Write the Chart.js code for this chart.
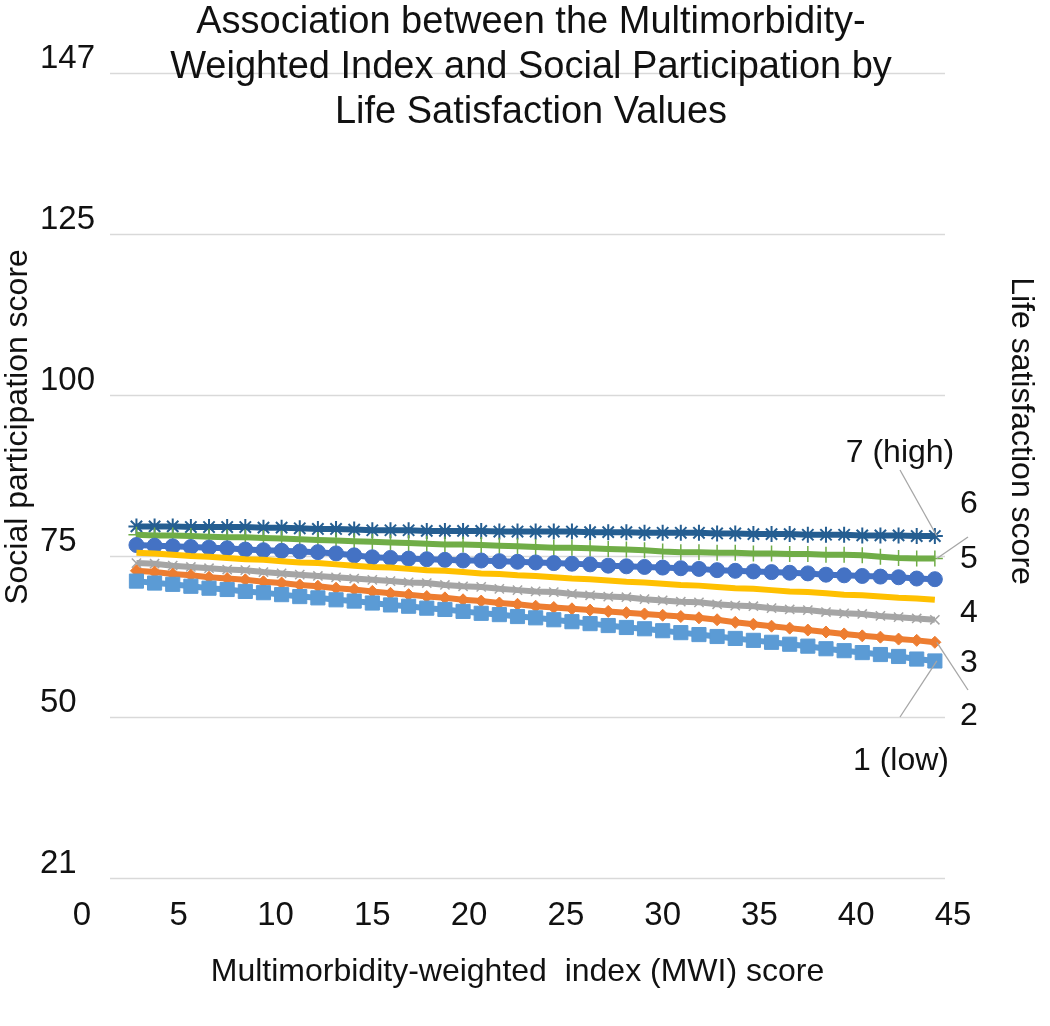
<!DOCTYPE html>
<html>
<head>
<meta charset="utf-8">
<title>MWI and social participation by life satisfaction</title>
<script src="https://cdn.jsdelivr.net/npm/chart.js@4.4.1/dist/chart.umd.min.js"></script>
<style>
  html, body { margin: 0; padding: 0; background: #fff; }
</style>
</head>
<body>
<canvas id="mwiChart" width="1050" height="1026"></canvas>
<script>
// MWI score of each plotted point
const mwiScores = [0, 1, 2, 3, 4, 5, 6, 7, 8, 9, 10, 11, 12, 13, 14, 15, 16, 17, 18, 19, 20, 21,
    22, 23, 24, 25, 26, 27, 28, 29, 30, 31, 32, 33, 34, 35, 36, 37, 38, 39, 40, 41, 42, 43, 44];

// social participation score, one list per life satisfaction value
const lifeSat1 = [71.1, 70.8, 70.6, 70.3, 70.0, 69.8, 69.5, 69.3, 69.0, 68.7, 68.5,
    68.2, 68.0, 67.7, 67.4, 67.2, 66.9, 66.7, 66.4, 66.1, 65.9, 65.6, 65.4,
    65.1, 64.8, 64.5, 64.2, 63.9, 63.7, 63.4, 63.1, 62.8, 62.5,
    62.2, 61.9, 61.6, 61.3, 61.0, 60.6, 60.3, 60.0, 59.7, 59.4, 59.0, 58.7];
const lifeSat2 = [72.7, 72.5, 72.2, 72.0, 71.7, 71.5, 71.3, 71.0, 70.8, 70.5, 70.3,
    70.0, 69.8, 69.5, 69.2, 69.0, 68.7, 68.5, 68.2, 68.0, 67.7, 67.5, 67.2,
    67.0, 66.8, 66.6, 66.4, 66.2, 66.0, 65.8, 65.6, 65.4, 65.1,
    64.7, 64.4, 64.1, 63.8, 63.5, 63.2, 62.9, 62.6, 62.4, 62.1, 61.9, 61.6];
const lifeSat3 = [73.9, 73.8, 73.5, 73.3, 73.1, 72.9, 72.8, 72.5, 72.3, 72.1, 71.9,
    71.7, 71.5, 71.3, 71.1, 70.9, 70.8, 70.5, 70.3, 70.2, 69.9, 69.7, 69.5,
    69.4, 69.1, 68.9, 68.7, 68.6, 68.3, 68.1, 67.9, 67.8, 67.5,
    67.3, 67.2, 66.9, 66.7, 66.6, 66.3, 66.1, 66.0, 65.7, 65.5, 65.3, 65.1];
const lifeSat4 = [75.5, 75.4, 75.2, 75.0, 74.9, 74.7, 74.5, 74.4, 74.2, 74.0, 73.9,
    73.7, 73.5, 73.3, 73.2, 73.0, 72.8, 72.7, 72.5, 72.3, 72.2, 72.0, 71.9,
    71.7, 71.5, 71.4, 71.2, 71.0, 70.9, 70.7, 70.5, 70.4, 70.2,
    70.0, 69.9, 69.7, 69.5, 69.4, 69.2, 69.0, 68.9, 68.7, 68.5, 68.4, 68.2];
const lifeSat5 = [76.7, 76.6, 76.5, 76.4, 76.3, 76.2, 76.0, 75.9, 75.8, 75.7, 75.6,
    75.4, 75.1, 74.8, 74.7, 74.6, 74.5, 74.4, 74.3, 74.3, 74.2, 74.1, 74.0,
    73.9, 73.8, 73.7, 73.5, 73.4, 73.3, 73.2, 73.1, 73.0, 72.8,
    72.7, 72.6, 72.5, 72.4, 72.3, 72.1, 72.0, 71.9, 71.8, 71.7, 71.5, 71.4];
const lifeSat6 = [78.3, 78.2, 78.2, 78.1, 78.0, 77.9, 77.9, 77.8, 77.7, 77.6, 77.5,
    77.4, 77.3, 77.2, 77.1, 77.0, 76.9, 76.8, 76.8, 76.7, 76.6, 76.5, 76.4,
    76.3, 76.3, 76.2, 76.1, 76.0, 75.9, 75.7, 75.6, 75.6, 75.5,
    75.5, 75.4, 75.4, 75.3, 75.3, 75.2, 75.2, 75.1, 74.9, 74.7, 74.6, 74.6];
const lifeSat7 = [79.6, 79.6, 79.6, 79.5, 79.5, 79.5, 79.5, 79.4, 79.4, 79.3, 79.2,
    79.2, 79.1, 79.0, 79.0, 79.0, 78.9, 78.9, 78.9, 78.9, 78.8, 78.8, 78.8,
    78.8, 78.8, 78.7, 78.7, 78.7, 78.6, 78.6, 78.6, 78.6, 78.5,
    78.5, 78.4, 78.4, 78.4, 78.3, 78.3, 78.3, 78.2, 78.2, 78.2, 78.1, 78.1];

const seriesNames = ["1 (low)", "2", "3", "4", "5", "6", "7 (high)"];
const yTickValues = [25, 50, 75, 100, 125, 150];
const yTickLabels = ["21", "50", "75", "100", "125", "147"];

const titleLines = ["Association between the Multimorbidity-",
    "Weighted Index and Social Participation by",
    "Life Satisfaction Values"];

const FONT = "'Liberation Sans', Arial, sans-serif";
const TEXT = "#111111";

// [values, colour, point style, point radius, point border width]
const seriesStyle = [
    [lifeSat1, "#5B9BD5", "rect", 10, 1],
    [lifeSat2, "#ED7D31", "rectRot", 6, 1],
    [lifeSat3, "#A5A5A5", "crossRot", 6.5, 1.5],
    [lifeSat4, "#FFC000", false, 0, 0],
    [lifeSat5, "#4472C4", "circle", 7.5, 1],
    [lifeSat6, "#70AD47", "cross", 8, 1.5],
    [lifeSat7, "#255E91", "star", 8, 2]
];

const datasets = seriesStyle.map(([vals, color, style, radius, pbw], i) => ({
    label: seriesNames[i],
    data: mwiScores.map((m, j) => ({ x: m, y: vals[j] })),
    xAxisID: "xd",
    yAxisID: "y",
    borderColor: color,
    backgroundColor: color,
    borderWidth: 6,
    pointStyle: style,
    pointRadius: radius,
    pointBorderWidth: pbw,
    pointBorderColor: color,
    pointBackgroundColor: color,
    tension: 0
}));

// horizontal gridlines, a bit shorter than the plot area like the original
const gridPlugin = {
    id: "gridPlugin",
    beforeDatasetsDraw(chart) {
        const { ctx, chartArea, scales } = chart;
        ctx.save();
        ctx.strokeStyle = "#d9d9d9";
        ctx.lineWidth = 1.5;
        scales.y.ticks.forEach(t => {
            const py = Math.round(scales.y.getPixelForValue(t.value)) + 0.5;
            ctx.beginPath();
            ctx.moveTo(chartArea.left + 28, py);
            ctx.lineTo(chartArea.right - 8, py);
            ctx.stroke();
        });
        ctx.restore();
    }
};

// title, side titles and the life satisfaction labels with leader lines
const overlayPlugin = {
    id: "overlayPlugin",
    afterDraw(chart) {
        const { ctx, scales } = chart;
        const last = mwiScores.length - 1;
        const endPt = k => ({
            x: scales.xd.getPixelForValue(mwiScores[last]),
            y: scales.y.getPixelForValue(seriesStyle[k][0][last])
        });

        ctx.save();
        ctx.fillStyle = TEXT;
        ctx.textBaseline = "alphabetic";

        ctx.font = "38px " + FONT;
        ctx.textAlign = "center";
        titleLines.forEach((t, i) => ctx.fillText(t, 531, 33 + i * 45));

        ctx.font = "32px " + FONT;
        ctx.textBaseline = "middle";
        ctx.save();
        ctx.translate(18, 427);
        ctx.rotate(-Math.PI / 2);
        ctx.fillText("Social participation score", 0, 0);
        ctx.restore();

        ctx.save();
        ctx.translate(1021, 431);
        ctx.rotate(Math.PI / 2);
        ctx.fillText("Life satisfaction score", 0, 0);
        ctx.restore();

        // leader lines
        ctx.strokeStyle = "#a6a6a6";
        ctx.lineWidth = 1.3;
        const leaders = [[6, 900, 470], [5, 968, 537], [1, 968, 690], [0, 900, 717]];
        leaders.forEach(([k, lx, ly]) => {
            const p = endPt(k);
            ctx.beginPath();
            ctx.moveTo(lx, ly);
            ctx.lineTo(p.x + 2, p.y);
            ctx.stroke();
        });

        ctx.textBaseline = "alphabetic";
        ctx.font = "32px " + FONT;
        ctx.textAlign = "center";
        ctx.fillText(seriesNames[6], 900, 462);
        ctx.fillText(seriesNames[0], 901, 770);
        ctx.textAlign = "left";
        const small = [[5, 513], [4, 568], [3, 622], [2, 672], [1, 725]];
        small.forEach(([k, by]) => ctx.fillText(seriesNames[k], 960, by));
        ctx.restore();
    }
};

new Chart(document.getElementById("mwiChart"), {
    type: "line",
    data: { datasets: datasets },
    options: {
        responsive: false,
        animation: false,
        layout: { padding: { top: 73, right: 97, bottom: 0, left: 0 } },
        plugins: {
            legend: { display: false },
            title: { display: false },
            tooltip: { enabled: false }
        },
        scales: {
            x: {
                type: "linear",
                position: "bottom",
                min: 0,
                max: 45,
                grid: { display: false, drawTicks: false },
                border: { display: false },
                ticks: {
                    stepSize: 5,
                    padding: 18,
                    color: TEXT,
                    font: { family: FONT, size: 33 }
                },
                title: {
                    display: true,
                    text: "Multimorbidity-weighted  index (MWI) score",
                    color: TEXT,
                    font: { family: FONT, size: 32 },
                    padding: { top: 0, bottom: 35 }
                },
                afterFit: s => { s.height = 148; }
            },
            xd: {
                type: "linear",
                display: false,
                min: -3,
                max: 45
            },
            y: {
                type: "linear",
                position: "left",
                min: 25,
                max: 150,
                grid: { display: false, drawTicks: false },
                border: { display: false },
                ticks: {
                    stepSize: 25,
                    mirror: true,
                    padding: -42,
                    labelOffset: -14,
                    color: TEXT,
                    font: { family: FONT, size: 33 },
                    callback: v => {
                        const i = yTickValues.indexOf(v);
                        return i >= 0 ? yTickLabels[i] : "";
                    }
                },
                afterFit: s => { s.width = 82; }
            }
        }
    },
    plugins: [gridPlugin, overlayPlugin]
});
</script>
</body>
</html>
